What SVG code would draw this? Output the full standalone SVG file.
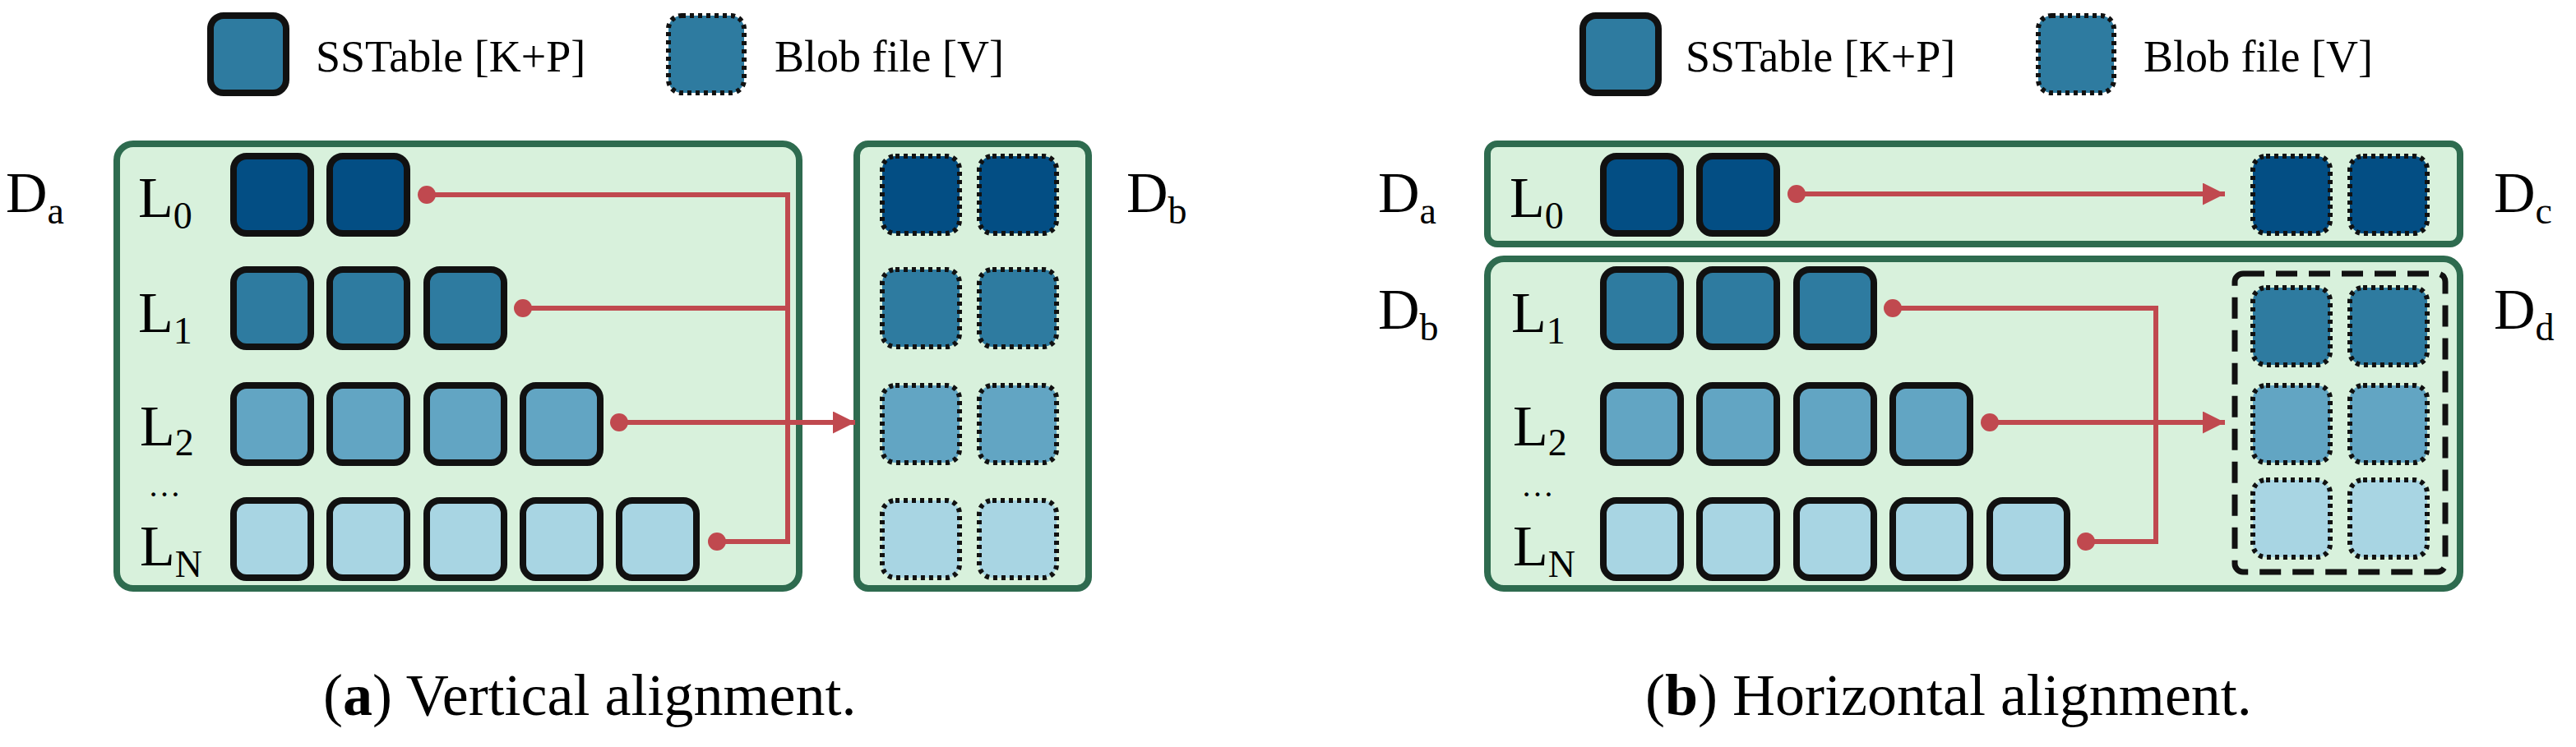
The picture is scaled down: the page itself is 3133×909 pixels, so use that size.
<svg xmlns="http://www.w3.org/2000/svg" width="3133" height="909" viewBox="0 0 3133 909" font-family="'Liberation Serif','Times New Roman','DejaVu Serif',serif">
<style>
text{font-family:"Liberation Serif","Times New Roman","DejaVu Serif",serif;fill:#000}
.leg{font-size:54px}
.lab{font-size:70px}
.sub{font-size:46px}
.cap{font-size:72px}
.dots{font-size:40px}
.box{fill:#d8f1dc;stroke:#2e6b4f;stroke-width:8}
.ss{stroke:#111;stroke-width:8}
.bl{stroke:#111;stroke-width:6;stroke-dasharray:5 5}
.c0{fill:#034e84}.c1{fill:#2e7ba0}.c2{fill:#62a5c3}.c3{fill:#a8d5e3}
.ln{fill:none;stroke:#c0494f;stroke-width:6}
.dot{fill:#c0494f}
</style>
<defs>
<marker id="ah" viewBox="0 0 10 10" refX="10" refY="5" markerWidth="4.5" markerHeight="4.5" orient="auto" markerUnits="strokeWidth"><path d="M0,0L10,5L0,10z" fill="#c0494f"/></marker>
</defs>
<g id="legend-a">
<rect class="ss c1" x="256" y="19" width="92" height="94" rx="16"/>
<text class="leg" x="384" y="87">SSTable [K+P]</text>
<rect class="bl c1" x="813" y="19" width="92" height="94" rx="16"/>
<text class="leg" x="942" y="87">Blob file [V]</text>
</g>
<g id="legend-b">
<rect class="ss c1" x="1925" y="19" width="92" height="94" rx="16"/>
<text class="leg" x="2050" y="87">SSTable [K+P]</text>
<rect class="bl c1" x="2479" y="19" width="92" height="94" rx="16"/>
<text class="leg" x="2607" y="87">Blob file [V]</text>
</g>
<g id="panel-a-Da">
<rect class="box" x="142" y="175" width="830" height="541" rx="20"/>
<text class="lab" x="7" y="258">D<tspan class="sub" dy="14">a</tspan></text>
<text class="lab" x="168" y="264">L<tspan class="sub" dy="14">0</tspan></text>
<text class="lab" x="168" y="404">L<tspan class="sub" dy="14">1</tspan></text>
<text class="lab" x="170" y="542">L<tspan class="sub" dy="12">2</tspan></text>
<text class="dots" x="180" y="604">…</text>
<text class="lab" x="170" y="688">L<tspan class="sub" dy="14">N</tspan></text>
<rect class="ss c0" x="284" y="190" width="94" height="94" rx="16"/>
<rect class="ss c0" x="401" y="190" width="94" height="94" rx="16"/>
<rect class="ss c1" x="284" y="328" width="94" height="94" rx="16"/>
<rect class="ss c1" x="401" y="328" width="94" height="94" rx="16"/>
<rect class="ss c1" x="519" y="328" width="94" height="94" rx="16"/>
<rect class="ss c2" x="284" y="469" width="94" height="94" rx="16"/>
<rect class="ss c2" x="401" y="469" width="94" height="94" rx="16"/>
<rect class="ss c2" x="519" y="469" width="94" height="94" rx="16"/>
<rect class="ss c2" x="636" y="469" width="94" height="94" rx="16"/>
<rect class="ss c3" x="284" y="609" width="94" height="94" rx="16"/>
<rect class="ss c3" x="401" y="609" width="94" height="94" rx="16"/>
<rect class="ss c3" x="519" y="609" width="94" height="94" rx="16"/>
<rect class="ss c3" x="636" y="609" width="94" height="94" rx="16"/>
<rect class="ss c3" x="753" y="609" width="94" height="94" rx="16"/>
</g>
<g id="panel-a-Db">
<rect class="box" x="1042" y="175" width="282" height="541" rx="14"/>
<text class="lab" x="1370" y="258">D<tspan class="sub" dy="14">b</tspan></text>
<rect class="bl c0" x="1073" y="190" width="94" height="94" rx="16"/>
<rect class="bl c0" x="1191" y="190" width="94" height="94" rx="16"/>
<rect class="bl c1" x="1073" y="328" width="94" height="94" rx="16"/>
<rect class="bl c1" x="1191" y="328" width="94" height="94" rx="16"/>
<rect class="bl c2" x="1073" y="469" width="94" height="94" rx="16"/>
<rect class="bl c2" x="1191" y="469" width="94" height="94" rx="16"/>
<rect class="bl c3" x="1073" y="609" width="94" height="94" rx="16"/>
<rect class="bl c3" x="1191" y="609" width="94" height="94" rx="16"/>
</g>
<g id="panel-b-Da">
<rect class="box" x="1809" y="175" width="1183" height="122" rx="12"/>
<text class="lab" x="1676" y="258">D<tspan class="sub" dy="14">a</tspan></text>
<text class="lab" x="1836" y="264">L<tspan class="sub" dy="14">0</tspan></text>
<rect class="ss c0" x="1950" y="190" width="94" height="94" rx="16"/>
<rect class="ss c0" x="2067" y="190" width="94" height="94" rx="16"/>
</g>
<g id="panel-b-Dc">
<text class="lab" x="3033" y="258">D<tspan class="sub" dy="14">c</tspan></text>
<rect class="bl c0" x="2740" y="190" width="94" height="94" rx="16"/>
<rect class="bl c0" x="2858" y="190" width="94" height="94" rx="16"/>
</g>
<g id="panel-b-Db">
<rect class="box" x="1809" y="315" width="1183" height="401" rx="20"/>
<text class="lab" x="1676" y="400">D<tspan class="sub" dy="14">b</tspan></text>
<text class="lab" x="1838" y="404">L<tspan class="sub" dy="14">1</tspan></text>
<text class="lab" x="1840" y="542">L<tspan class="sub" dy="12">2</tspan></text>
<text class="dots" x="1850" y="604">…</text>
<text class="lab" x="1840" y="688">L<tspan class="sub" dy="14">N</tspan></text>
<rect class="ss c1" x="1950" y="328" width="94" height="94" rx="16"/>
<rect class="ss c1" x="2067" y="328" width="94" height="94" rx="16"/>
<rect class="ss c1" x="2185" y="328" width="94" height="94" rx="16"/>
<rect class="ss c2" x="1950" y="469" width="94" height="94" rx="16"/>
<rect class="ss c2" x="2067" y="469" width="94" height="94" rx="16"/>
<rect class="ss c2" x="2185" y="469" width="94" height="94" rx="16"/>
<rect class="ss c2" x="2302" y="469" width="94" height="94" rx="16"/>
<rect class="ss c3" x="1950" y="609" width="94" height="94" rx="16"/>
<rect class="ss c3" x="2067" y="609" width="94" height="94" rx="16"/>
<rect class="ss c3" x="2185" y="609" width="94" height="94" rx="16"/>
<rect class="ss c3" x="2302" y="609" width="94" height="94" rx="16"/>
<rect class="ss c3" x="2420" y="609" width="94" height="94" rx="16"/>
</g>
<g id="panel-b-Dd">
<rect x="2718" y="333" width="256" height="363" rx="10" fill="none" stroke="#111" stroke-width="7" stroke-dasharray="26 14"/>
<text class="lab" x="3033" y="400">D<tspan class="sub" dy="14">d</tspan></text>
<rect class="bl c1" x="2740" y="350" width="94" height="94" rx="16"/>
<rect class="bl c1" x="2858" y="350" width="94" height="94" rx="16"/>
<rect class="bl c2" x="2740" y="469" width="94" height="94" rx="16"/>
<rect class="bl c2" x="2858" y="469" width="94" height="94" rx="16"/>
<rect class="bl c3" x="2740" y="584" width="94" height="94" rx="16"/>
<rect class="bl c3" x="2858" y="584" width="94" height="94" rx="16"/>
</g>
<g id="connectors">
<path class="ln" d="M519,237H958V659H872"/>
<path class="ln" d="M636,375H958"/>
<path class="ln" d="M753,514H1040" marker-end="url(#ah)"/>
<circle class="dot" cx="519" cy="237" r="11"/><circle class="dot" cx="636" cy="375" r="11"/>
<circle class="dot" cx="753" cy="514" r="11"/><circle class="dot" cx="872" cy="659" r="11"/>
<path class="ln" d="M2185,236H2706" marker-end="url(#ah)"/>
<path class="ln" d="M2302,375H2622V659H2537"/>
<path class="ln" d="M2420,514H2706" marker-end="url(#ah)"/>
<circle class="dot" cx="2185" cy="236" r="11"/><circle class="dot" cx="2302" cy="375" r="11"/>
<circle class="dot" cx="2420" cy="514" r="11"/><circle class="dot" cx="2537" cy="659" r="11"/>
</g>
<g id="captions">
<text class="cap" x="393" y="870">(<tspan font-weight="bold">a</tspan>) Vertical alignment.</text>
<text class="cap" x="2001" y="870">(<tspan font-weight="bold">b</tspan>) Horizontal alignment.</text>
</g>
</svg>
